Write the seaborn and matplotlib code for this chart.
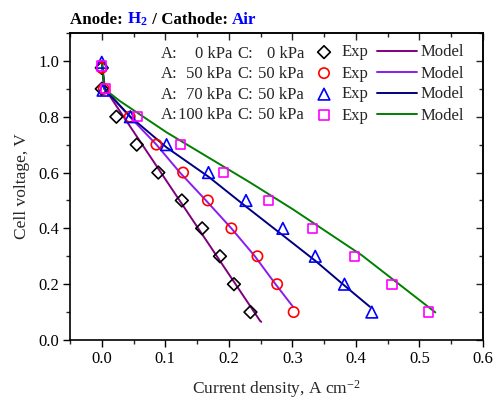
import matplotlib
matplotlib.use("Agg")
import matplotlib.pyplot as plt
import seaborn as sns
import numpy as np
import pandas as pd
from matplotlib.ticker import MultipleLocator

# ---------------- data ----------------
anode_p = ["0 kPa", "50 kPa", "70 kPa", "100 kPa"]
cathode_p = ["0 kPa", "50 kPa", "50 kPa", "50 kPa"]

exp0_i = [0.0, 0.0, 0.023, 0.055, 0.089, 0.126, 0.158, 0.186, 0.208, 0.234]
exp0_v = [0.975, 0.90, 0.80, 0.70, 0.60, 0.50, 0.40, 0.30, 0.20, 0.10]
exp50_i = [0.0, 0.003, 0.044, 0.086, 0.128, 0.167, 0.204, 0.245, 0.276, 0.302]
exp50_v = [0.975, 0.90, 0.80, 0.70, 0.60, 0.50, 0.40, 0.30, 0.20, 0.10]
exp70_i = [0.0, 0.002, 0.045, 0.102, 0.168, 0.227, 0.285, 0.336, 0.382, 0.425]
exp70_v = [0.995, 0.895, 0.80, 0.70, 0.60, 0.50, 0.40, 0.30, 0.20, 0.10]
exp100_i = [0.0, 0.006, 0.056, 0.124, 0.192, 0.262, 0.332, 0.398, 0.457, 0.514]
exp100_v = [0.982, 0.90, 0.80, 0.70, 0.60, 0.50, 0.40, 0.30, 0.20, 0.10]

mod0_i = [0.0, 0.005, 0.249, 0.251]
mod0_v = [1.0, 0.90, 0.069, 0.065]
mod50_i = [0.0, 0.004, 0.044, 0.086, 0.123, 0.164, 0.204, 0.241, 0.2735, 0.301]
mod50_v = [1.0, 0.90, 0.80, 0.70, 0.60, 0.50, 0.40, 0.30, 0.20, 0.119]
mod70_i = [0.0, 0.004, 0.045, 0.102, 0.168, 0.227, 0.285, 0.336, 0.382, 0.422]
mod70_v = [1.0, 0.90, 0.80, 0.69, 0.585, 0.478, 0.375, 0.284, 0.195, 0.119]
mod100_i = [0.0, 0.004, 0.028, 0.102, 0.233, 0.301, 0.409, 0.525]
mod100_v = [1.0, 0.90, 0.857, 0.744, 0.565, 0.468, 0.304, 0.099]

x_ticks = [0.0, 0.1, 0.2, 0.3, 0.4, 0.5, 0.6]
y_ticks = [0.0, 0.2, 0.4, 0.6, 0.8, 1.0]

# ---------------- style ----------------
sns.set_theme(style="ticks")
plt.rcParams["font.family"] = ["Liberation Serif", "DejaVu Serif"]
plt.rcParams["mathtext.fontset"] = "custom"
plt.rcParams["mathtext.rm"] = "Liberation Serif"
plt.rcParams["mathtext.it"] = "Liberation Serif:italic"
plt.rcParams["mathtext.bf"] = "Liberation Serif:bold"

W, H = 496, 405
fig = plt.figure(figsize=(W / 100, H / 100), dpi=100)
ax = fig.add_axes([70 / W, 1 - 340 / H, (483 - 70) / W, (340 - 33) / H])

exp_sets = [(exp0_i, exp0_v), (exp50_i, exp50_v), (exp70_i, exp70_v), (exp100_i, exp100_v)]
mod_sets = [(mod0_i, mod0_v), (mod50_i, mod50_v), (mod70_i, mod70_v), (mod100_i, mod100_v)]
mcolors = ["black", "red", "blue", "magenta"]
markers = ["D", "o", "^", "s"]
msizes = [42, 55, 70, 45]
lcolors = ["#800080", "#8A1CF0", "#000080", "#008000"]

for (xi, yi), c, m, s in zip(exp_sets, mcolors, markers, msizes):
    sns.scatterplot(x=xi, y=yi, ax=ax, marker=m, s=s, facecolors="none",
                    edgecolor=c, linewidth=1.2, label="Exp", zorder=3)
for (xi, yi), lc in zip(mod_sets, lcolors):
    sns.lineplot(x=xi, y=yi, ax=ax, color=lc, linewidth=1.4, sort=False,
                 estimator=None, label="Model", zorder=2)

ax.set_xlim(-0.05, 0.6)
ax.set_ylim(0.0, 1.1)
ax.set_xticks(x_ticks)
ax.set_yticks(y_ticks)
ax.set_xticklabels([f"{t:.1f}" for t in x_ticks])
ax.set_yticklabels([f"{t:.1f}" for t in y_ticks])
ax.xaxis.set_minor_locator(MultipleLocator(0.05))
ax.yaxis.set_minor_locator(MultipleLocator(0.1))
ax.tick_params(which="major", direction="out", length=5, width=1, labelsize=12, colors="black", pad=3)
ax.tick_params(which="minor", direction="out", length=3, width=1)
for sp in ax.spines.values():
    sp.set_visible(True)
    sp.set_linewidth(1.2)
    sp.set_color("black")

# mirrored inward ticks on top/right
secx = ax.secondary_xaxis("top")
secx.set_xticks(x_ticks)
secx.xaxis.set_minor_locator(MultipleLocator(0.05))
secx.tick_params(which="major", direction="in", length=5, width=1, labeltop=False)
secx.tick_params(which="minor", direction="in", length=3, width=1)
secy = ax.secondary_yaxis("right")
secy.set_yticks(y_ticks)
secy.yaxis.set_minor_locator(MultipleLocator(0.1))
secy.tick_params(which="major", direction="in", length=5, width=1, labelright=False)
secy.tick_params(which="minor", direction="in", length=3, width=1)

ax.set_xlabel("Current density, A cm$^{-2}$", fontsize=12.5, labelpad=8)
ax.set_ylabel("Cell voltage, V", fontsize=12.5, labelpad=6)

# legends: Exp markers and Model lines
handles, labels = ax.get_legend_handles_labels()
anchor_y = (340 - 44.5) / 307
leg1 = ax.legend(handles[:4], labels[:4], ncol=1, frameon=False, fontsize=12,
                 handlelength=1.2, handletextpad=0.48,
                 labelspacing=0.3, borderpad=0, borderaxespad=0,
                 loc="upper left", bbox_to_anchor=((314 - 70) / 413, anchor_y))
ax.add_artist(leg1)
leg2 = ax.legend(handles[4:], labels[4:], ncol=1, frameon=False, fontsize=12,
                 handlelength=2.4, handletextpad=0.2,
                 labelspacing=0.3, borderpad=0, borderaxespad=0,
                 loc="upper left", bbox_to_anchor=((377 - 70) / 413, anchor_y))

# condition labels
row_y = [53.7, 74.5, 94.7, 115.3]
for k in range(4):
    yy = 1 - row_y[k] / H
    fig.text(161 / W, yy, "A:", fontsize=12, va="center", ha="left")
    fig.text(232 / W, yy, anode_p[k], fontsize=12, va="center", ha="right")
    fig.text(237 / W, yy, "C:", fontsize=12, va="center", ha="left")
    fig.text(304 / W, yy, cathode_p[k], fontsize=12, va="center", ha="right")

# title with colored pieces
pieces = [("Anode: ", "black"), ("H$_\\mathbf{2}$", "blue"),
          (" / Cathode: ", "black"), ("Air", "blue")]
fig.canvas.draw()
r = fig.canvas.get_renderer()
xpos = 70
for txt, col in pieces:
    t = fig.text(xpos / W, 1 - 24 / H, txt, fontsize=12.2, fontweight="bold",
                 color=col, ha="left", va="baseline")
    bb = t.get_window_extent(renderer=r)
    xpos += bb.width

fig.savefig("out.png", dpi=100)
